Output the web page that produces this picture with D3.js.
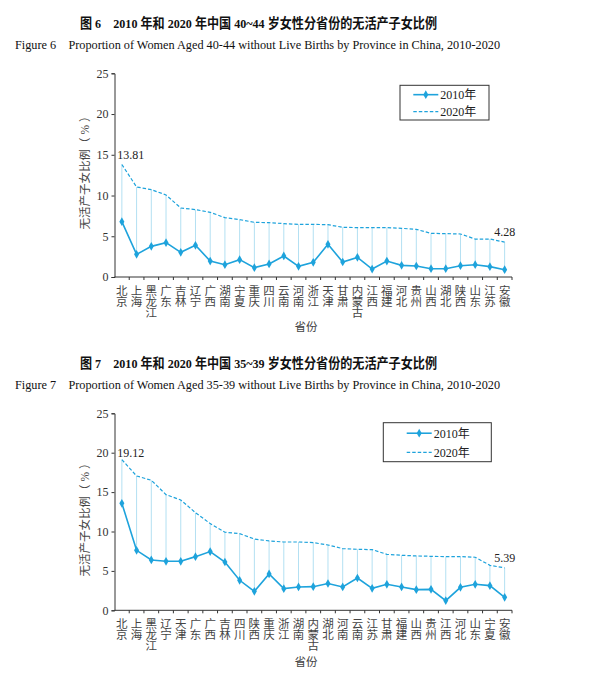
<!DOCTYPE html>
<html>
<head>
<meta charset="utf-8">
<script src="https://cdn.jsdelivr.net/npm/d3@7"></script>
<style>
  body { margin: 0; background: #fff; }
  svg text { font-family: "Liberation Serif", "Noto Sans CJK SC", serif; }
</style>
</head>
<body>
<script>
// figure 6: women aged 40-44
var provinces6 = ['北京','上海','黑龙江','广东','吉林','辽宁','广西','湖南','宁夏','重庆','四川','云南','河南','浙江',
  '天津','甘肃','内蒙古','江西','福建','河北','贵州','山西','湖北','陕西','山东','江苏','安徽'];
var y2010_6 = [6.79,2.78,3.76,4.21,3.03,3.89,1.96,1.51,2.13,1.15,1.60,2.58,1.31,1.80,
  4.01,1.84,2.41,0.98,1.96,1.43,1.35,1.02,1.02,1.39,1.51,1.27,0.90];
var y2020_6 = [13.81,11.05,10.72,10.07,8.47,8.27,7.94,7.28,7.04,6.71,6.67,6.55,6.46,6.46,
  6.42,6.10,6.06,6.06,6.06,5.97,5.85,5.36,5.32,5.28,4.66,4.66,4.28];

// figure 7: women aged 35-39
var provinces7 = ['北京','上海','黑龙江','辽宁','天津','广东','广西','吉林','四川','陕西','重庆','浙江','湖南','内蒙古',
  '湖北','河南','云南','江苏','甘肃','福建','山西','贵州','江西','河北','山东','宁夏','安徽'];
var y2010_7 = [13.58,7.61,6.39,6.22,6.22,6.81,7.45,6.13,3.81,2.41,4.61,2.75,2.96,3.00,
  3.40,2.96,4.10,2.79,3.30,2.96,2.62,2.66,1.23,2.92,3.30,3.13,1.65];
var y2020_7 = [19.12,17.05,16.50,14.68,14.00,12.39,11.00,9.90,9.73,9.05,8.80,8.67,8.67,8.59,
  8.29,7.83,7.74,7.70,7.10,6.98,6.90,6.85,6.81,6.81,6.73,5.71,5.39];

var yTicks = [0,5,10,15,20,25];
var seriesNames = ['2010年','2020年'];

var blue = '#1ea3dc';
var dropColor = '#b3e0f2';

var svg = d3.select('body').append('svg')
  .attr('width', 603)
  .attr('height', 675);

function drawChart(opt) {
  var g = svg.append('g');

  // titles, squeezed to the width they have in the print
  g.append('text')
    .attr('x', 80).attr('y', opt.top - 45)
    .attr('font-family', '"Noto Sans CJK SC", sans-serif')
    .attr('font-weight', 'bold').attr('font-size', 13.5)
    .attr('fill', '#111')
    .attr('textLength', 357).attr('lengthAdjust', 'spacingAndGlyphs')
    .text(opt.titleCn);
  g.append('text')
    .attr('x', 15).attr('y', opt.top - 24)
    .attr('font-size', 13.5)
    .attr('fill', '#111')
    .attr('textLength', 485).attr('lengthAdjust', 'spacingAndGlyphs')
    .text(opt.titleEn);

  var x = d3.scaleBand().domain(opt.cats).range([114.5, 512]);
  var y = d3.scaleLinear().domain([0, 25]).range([opt.bottom, opt.top]);

  // y axis
  var yAxis = g.append('g')
    .attr('transform', 'translate(114.5,0)')
    .call(d3.axisLeft(y).tickValues(yTicks).tickSize(3).tickPadding(3));
  yAxis.selectAll('text').attr('font-size', 12).attr('fill', '#333');
  yAxis.selectAll('line, path').attr('stroke', '#333');

  // x axis with ticks at band edges
  var xg = g.append('g').attr('transform', 'translate(0,' + opt.bottom + ')');
  xg.append('line').attr('x1', 114.5).attr('x2', 512).attr('stroke', '#333');
  xg.selectAll('.tk').data(opt.cats).enter().append('line')
    .attr('x1', function(d) { return x(d) + x.bandwidth(); })
    .attr('x2', function(d) { return x(d) + x.bandwidth(); })
    .attr('y1', 0).attr('y2', 3).attr('stroke', '#333');
  xg.selectAll('.lbl').data(opt.cats).enter().append('text')
    .attr('text-anchor', 'middle')
    .attr('font-family', '"Noto Sans CJK SC", sans-serif')
    .attr('font-size', 11.5).attr('fill', '#444')
    .each(function(d) {
      var t = d3.select(this);
      d.split('').forEach(function(ch, i) {
        t.append('tspan')
          .attr('x', x(d) + x.bandwidth() / 2)
          .attr('y', 18 + i * 10.8)
          .text(ch);
      });
    });
  g.append('text')
    .attr('x', 306).attr('y', opt.bottom + opt.xTitleDy)
    .attr('text-anchor', 'middle')
    .attr('font-family', '"Noto Sans CJK SC", sans-serif')
    .attr('font-size', 11.5).attr('fill', '#444')
    .text('省份');

  // y title
  g.append('text')
    .attr('transform', 'translate(89,' + opt.yTitleY + ') rotate(-90)')
    .attr('text-anchor', 'middle')
    .attr('font-family', '"Noto Sans CJK SC", sans-serif')
    .attr('font-size', 11.5).attr('fill', '#444')
    .text('无活产子女比例（ % ）');

  var cx = function(i) { return x(opt.cats[i]) + x.bandwidth() / 2; };

  // drop lines
  g.selectAll('.drop').data(opt.cats).enter().append('line')
    .attr('x1', function(d, i) { return cx(i); })
    .attr('x2', function(d, i) { return cx(i); })
    .attr('y1', function(d, i) { return y(opt.a[i]); })
    .attr('y2', function(d, i) { return y(opt.b[i]); })
    .attr('stroke', dropColor).attr('stroke-width', 1);

  var line = d3.line()
    .x(function(d, i) { return cx(i); })
    .y(function(d) { return y(d); });

  g.append('path').datum(opt.b)
    .attr('d', line).attr('fill', 'none')
    .attr('stroke', blue).attr('stroke-width', 1.2)
    .attr('stroke-dasharray', '3.5,2');

  g.append('path').datum(opt.a)
    .attr('d', line).attr('fill', 'none')
    .attr('stroke', blue).attr('stroke-width', 1.6);

  var diamond = d3.symbol().type(d3.symbolDiamond).size(22);
  g.selectAll('.pt').data(opt.a).enter().append('path')
    .attr('d', diamond)
    .attr('transform', function(d, i) { return 'translate(' + cx(i) + ',' + y(d) + ')'; })
    .attr('fill', blue);

  // end labels
  var n = opt.b.length - 1;
  g.append('text')
    .attr('x', cx(0) + 9).attr('y', y(opt.b[0]) - opt.labelDy0)
    .attr('text-anchor', 'middle').attr('font-size', 12).attr('fill', '#222')
    .text(opt.b[0].toFixed(2));
  g.append('text')
    .attr('x', cx(n)).attr('y', y(opt.b[n]) - opt.labelDyN)
    .attr('text-anchor', 'middle').attr('font-size', 12).attr('fill', '#222')
    .text(opt.b[n].toFixed(2));

  // legend
  var L = opt.legend;
  g.append('rect')
    .attr('x', L.x).attr('y', L.y).attr('width', L.w).attr('height', L.h)
    .attr('fill', '#fff').attr('stroke', '#333').attr('stroke-width', 1);
  var lx = L.x + L.pad;
  var ly1 = L.y + L.h * 0.27, ly2 = L.y + L.h * 0.76;
  g.append('line').attr('x1', lx).attr('x2', lx + 25).attr('y1', ly1).attr('y2', ly1)
    .attr('stroke', blue).attr('stroke-width', 1.6);
  g.append('path').attr('d', diamond)
    .attr('transform', 'translate(' + (lx + 12.5) + ',' + ly1 + ')').attr('fill', blue);
  g.append('line').attr('x1', lx).attr('x2', lx + 25).attr('y1', ly2).attr('y2', ly2)
    .attr('stroke', blue).attr('stroke-width', 1.2).attr('stroke-dasharray', '3.5,2');
  g.append('text').attr('x', lx + 27).attr('y', ly1 + 4.5)
    .attr('font-size', 12).attr('fill', '#222').text(seriesNames[0]);
  g.append('text').attr('x', lx + 27).attr('y', ly2 + 4.5)
    .attr('font-size', 12).attr('fill', '#222').text(seriesNames[1]);
}

drawChart({
  cats: provinces6, a: y2010_6, b: y2020_6,
  top: 73.3, bottom: 277,
  titleCn: '图 6\u00a0\u00a0\u00a0 2010 年和 2020 年中国 40~44 岁女性分省份的无活产子女比例',
  titleEn: 'Figure 6\u00a0\u00a0\u00a0 Proportion of Women Aged 40-44 without Live Births by Province in China, 2010-2020',
  xTitleDy: 54, yTitleY: 170,
  labelDy0: 5, labelDyN: 6,
  legend: { x: 400, y: 85.3, w: 89, h: 34.7, pad: 13.3 }
});

drawChart({
  cats: provinces7, a: y2010_7, b: y2020_7,
  top: 413.3, bottom: 610.3,
  titleCn: '图 7\u00a0\u00a0\u00a0 2010 年和 2020 年中国 35~39 岁女性分省份的无活产子女比例',
  titleEn: 'Figure 7\u00a0\u00a0\u00a0 Proportion of Women Aged 35-39 without Live Births by Province in China, 2010-2020',
  xTitleDy: 56, yTitleY: 517,
  labelDy0: 3, labelDyN: 6,
  legend: { x: 383.3, y: 422.7, w: 108, h: 39, pad: 23.4 }
});
</script>
</body>
</html>
